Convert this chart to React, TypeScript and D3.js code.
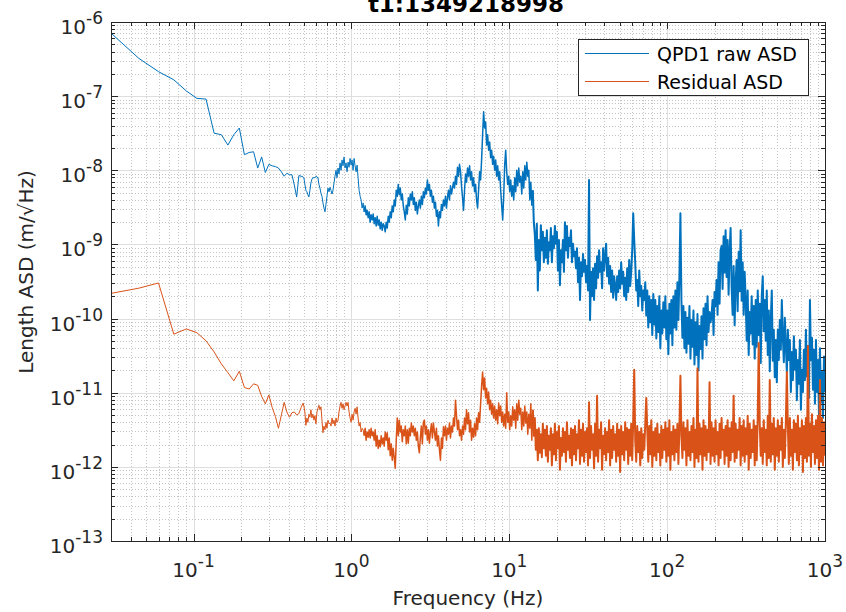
import React from 'react';
import * as d3 from 'd3';

const W = 846;
const H = 612;
const PL = 111, PR = 825, PT = 22, PB = 541;

const titleText = 't1:1349218998';
const xLabel = 'Frequency (Hz)';
const yLabel = 'Length ASD (m/\u221AHz)';
const seriesNames = ['QPD1 raw ASD', 'Residual ASD'];
const seriesColors = ['#0072BD', '#D95319'];
const xTickExps = [-1, 0, 1, 2, 3];
const yTickExps = [-13, -12, -11, -10, -9, -8, -7, -6];
const xDomain = [0.03, 1000];
const yDomain = [1e-13, 1e-6];

// Low-frequency bins (Hz), read one by one
const lowFreq = [0.03, 0.045, 0.06, 0.075, 0.09, 0.105, 0.12, 0.135, 0.15, 0.165, 0.18, 0.195, 0.21, 0.225, 0.24, 0.255,
  0.27, 0.285, 0.3, 0.315, 0.33, 0.345, 0.36, 0.375, 0.39, 0.405, 0.42, 0.435, 0.45, 0.465, 0.48, 0.495];
// log10 of ASD (m/sqrt(Hz))
const qpdLowLog = [-6.15, -6.49, -6.67, -6.78, -6.93, -7.03, -7.04, -7.50, -7.52, -7.66, -7.52, -7.43, -7.79, -7.76, -7.75, -7.97,
  -7.82, -8.03, -7.92, -7.94, -7.95, -7.97, -8.02, -8.08, -8.04, -8.06, -8.06, -8.20, -8.36, -8.07, -8.08, -8.09];
const resLowLog = [-9.66, -9.59, -9.52, -10.21, -10.14, -10.19, -10.30, -10.45, -10.61, -10.73, -10.84, -10.71, -10.93, -10.95, -10.88, -10.90,
  -11.05, -11.15, -11.03, -11.20, -11.32, -11.48, -11.30, -11.13, -11.26, -11.33, -11.27, -11.26, -11.30, -11.28, -11.20, -11.14];

// Dense part: log-spaced readings from 0.5 Hz to 1 kHz
const denseStartHz = 0.5;
const denseEndHz = 1000;
// line weight bands (Hz) to mimic the density of the original FFT bins
const midFromHz = 1.2;
const denseFromHz = 14;
const qpdDenseLog = [
  -8.10,-8.19,-8.27,-8.29,-8.33,-8.36,-8.27,-8.17,-8.12,-8.10,
  -8.10,-8.10,-8.08,-8.09,-8.10,-8.19,-8.24,-8.31,-8.35,-8.44,
  -8.51,-8.56,-8.46,-8.35,-8.24,-8.29,-8.23,-8.27,-8.32,-8.27,
  -8.17,-8.08,-8.00,-8.10,-7.97,-8.05,-7.90,-8.00,-7.86,-7.94,
  -7.82,-7.97,-7.90,-8.02,-7.89,-7.96,-7.84,-7.93,-7.86,-8.00,
  -7.84,-7.94,-8.02,-7.93,-8.10,-8.27,-8.35,-8.40,-8.51,-8.44,
  -8.56,-8.48,-8.60,-8.54,-8.64,-8.56,-8.70,-8.60,-8.67,-8.59,
  -8.72,-8.64,-8.75,-8.62,-8.74,-8.67,-8.79,-8.70,-8.81,-8.72,
  -8.75,-8.83,-8.70,-8.78,-8.62,-8.70,-8.56,-8.64,-8.48,-8.56,
  -8.40,-8.48,-8.27,-8.35,-8.19,-8.33,-8.24,-8.40,-8.32,-8.48,
  -8.56,-8.67,-8.47,-8.59,-8.37,-8.48,-8.32,-8.40,-8.29,-8.46,
  -8.37,-8.54,-8.43,-8.59,-8.48,-8.40,-8.51,-8.35,-8.46,-8.29,
  -8.37,-8.24,-8.32,-8.13,-8.27,-8.19,-8.35,-8.27,-8.43,-8.35,
  -8.51,-8.43,-8.62,-8.54,-8.75,-8.56,-8.64,-8.46,-8.54,-8.40,
  -8.48,-8.35,-8.51,-8.37,-8.27,-8.40,-8.21,-8.32,-8.24,-8.16,
  -8.24,-8.08,-8.19,-7.96,-8.08,-7.92,-8.02,-8.21,-8.37,-8.54,
  -8.27,-8.05,-8.16,-7.97,-8.08,-7.94,-8.13,-8.02,-8.21,-8.10,
  -8.29,-8.19,-8.40,-8.51,-8.27,-8.02,-8.13,-7.86,-7.52,-7.21,
  -7.43,-7.35,-7.66,-7.52,-7.73,-7.62,-7.83,-7.73,-7.92,-7.81,
  -8.00,-7.86,-8.08,-7.94,-8.13,-8.02,-8.27,-8.47,-8.67,-8.35,
  -7.93,-7.73,-8.02,-8.19,-8.08,-8.29,-8.13,-8.35,-8.21,-8.40,
  -8.10,-8.29,-8.00,-8.21,-7.97,-8.16,-8.08,-8.32,-8.02,-8.24,
  -7.94,-8.13,-7.89,-8.08,-8.00,-8.40,-8.16,-8.47,-8.27,-8.70,
  -8.87,-9.21,-8.72,-9.62,-8.94,-9.35,-8.74,-9.08,-8.83,-9.24,
  -8.91,-9.18,-8.81,-9.26,-8.97,-9.08,-8.78,-9.24,-8.89,-9.05,
  -8.75,-8.99,-8.83,-9.35,-8.94,-9.55,-9.08,-9.24,-8.94,-9.37,
  -8.70,-9.08,-8.75,-9.18,-8.91,-9.02,-8.81,-9.24,-8.99,-9.16,
  -9.10,-9.32,-9.05,-9.51,-9.18,-9.75,-9.24,-9.43,-9.13,-9.37,
  -9.21,-9.51,-9.29,-9.62,-8.13,-10.02,-9.37,-9.70,-9.32,-9.75,
  -9.26,-9.59,-9.16,-9.45,-9.08,-9.37,-9.24,-9.59,-9.05,-9.35,
  -9.16,-8.99,-9.43,-9.18,-9.53,-9.29,-9.64,-9.35,-9.72,-9.43,
  -9.56,-9.75,-9.43,-9.64,-9.35,-9.59,-9.24,-9.53,-9.37,-9.70,
  -9.45,-9.75,-9.32,-9.64,-9.21,-9.56,-9.37,-9.08,-8.58,-8.94,
  -9.24,-9.62,-9.48,-9.83,-9.35,-9.70,-9.56,-9.89,-9.62,-9.75,
  -9.51,-9.96,-9.62,-10.12,-9.70,-10.05,-9.75,-10.22,-9.67,-10.08,
  -9.75,-10.27,-9.83,-10.18,-9.70,-10.40,-9.89,-10.20,-9.78,-10.12,
  -9.70,-10.28,-9.89,-10.48,-9.80,-10.20,-9.75,-10.36,-9.70,-10.12,
  -9.62,-10.15,-9.51,-10.02,-9.43,-8.58,-9.75,-10.26,-9.83,-10.40,
  -9.91,-10.46,-9.99,-10.34,-9.83,-10.54,-10.02,-10.38,-9.89,-10.62,
  -10.05,-10.49,-9.94,-10.70,-10.10,-10.41,-9.97,-10.54,-9.86,-10.28,
  -9.80,-10.36,-9.70,-10.18,-9.91,-10.05,-9.97,-9.75,-10.22,-9.64,
  -9.83,-9.48,-9.95,-9.24,-9.80,-9.08,-9.02,-9.60,-8.89,-9.38,
  -8.81,-9.44,-8.94,-9.68,-9.08,-8.78,-9.57,-9.95,-9.29,-10.09,
  -9.51,-9.21,-9.90,-9.10,-9.63,-8.81,-9.76,-9.24,-9.95,-9.37,
  -9.75,-10.30,-9.62,-10.49,-9.91,-10.20,-9.70,-10.35,-9.83,-10.54,
  -9.75,-10.38,-9.62,-10.22,-9.80,-10.60,-9.70,-9.43,-10.17,-9.75,
  -10.30,-9.62,-10.49,-9.89,-10.71,-10.02,-9.62,-10.57,-10.15,-10.79,
  -10.29,-10.86,-10.15,-10.56,-10.02,-10.42,-9.75,-10.24,-10.59,-9.99,
  -10.37,-10.72,-10.15,-10.56,-10.29,-10.99,-10.45,-10.83,-10.24,-10.69,
  -10.42,-11.10,-10.56,-10.88,-10.29,-11.23,-10.69,-10.99,-10.42,-10.83,
  -10.15,-10.78,-10.37,-11.07,-9.75,-10.56,-10.26,-10.96,-10.42,-11.15,
  -10.29,-10.99,-10.56,-11.29,-10.40,-11.13,-10.72,-11.34,-10.51,-10.99,
];
const resDenseLog = [
  -11.18,-11.26,-11.44,-11.34,-11.40,-11.29,-11.33,-11.23,-11.34,-11.29,
  -11.37,-11.31,-11.42,-11.26,-11.21,-11.17,-11.23,-11.19,-11.37,-11.54,
  -11.45,-11.50,-11.40,-11.48,-11.37,-11.42,-11.41,-11.45,-11.34,-11.42,
  -11.37,-11.45,-11.34,-11.40,-11.37,-11.26,-11.18,-11.13,-11.21,-11.15,
  -11.23,-11.18,-11.13,-11.18,-11.13,-11.26,-11.34,-11.40,-11.29,-11.37,
  -11.26,-11.21,-11.29,-11.19,-11.34,-11.45,-11.40,-11.53,-11.48,-11.50,
  -11.58,-11.48,-11.64,-11.53,-11.60,-11.50,-11.61,-11.48,-11.58,-11.53,
  -11.64,-11.50,-11.72,-11.58,-11.75,-11.64,-11.73,-11.58,-11.69,-11.61,
  -11.72,-11.53,-11.64,-11.54,-11.77,-11.61,-11.85,-11.69,-11.91,-11.75,
  -11.88,-12.02,-11.64,-11.34,-11.58,-11.37,-11.53,-11.45,-11.66,-11.50,
  -11.58,-11.45,-11.69,-11.50,-11.68,-11.48,-11.58,-11.41,-11.53,-11.45,
  -11.58,-11.48,-11.64,-11.53,-11.72,-11.81,-11.61,-11.45,-11.69,-11.40,
  -11.37,-11.56,-11.45,-11.64,-11.50,-11.68,-11.53,-11.42,-11.61,-11.41,
  -11.53,-11.64,-11.48,-11.72,-11.58,-11.77,-11.91,-11.61,-11.75,-11.46,
  -11.58,-11.45,-11.64,-11.48,-11.56,-11.41,-11.61,-11.45,-11.53,-11.34,
  -11.45,-11.10,-11.31,-11.50,-11.37,-11.58,-11.50,-11.64,-11.45,-11.56,
  -11.34,-11.50,-11.23,-11.42,-11.27,-11.53,-11.37,-11.64,-11.48,-11.60,
  -11.42,-11.58,-11.34,-11.50,-11.27,-11.40,-11.15,-10.91,-10.72,-10.96,
  -10.80,-11.07,-10.94,-11.15,-10.99,-11.23,-11.10,-11.29,-11.15,-11.34,
  -11.18,-11.37,-11.23,-11.42,-11.14,-11.31,-11.18,-11.40,-11.26,-11.45,
  -11.29,-11.48,-11.00,-11.40,-11.26,-11.50,-11.31,-11.45,-11.19,-11.37,
  -11.23,-11.48,-11.15,-11.37,-11.10,-11.29,-11.21,-11.50,-11.26,-11.45,
  -11.18,-11.41,-11.26,-11.56,-11.29,-11.48,-11.15,-11.64,-11.23,-11.58,
  -11.34,-11.77,-11.50,-11.91,-11.48,-11.81,-11.56,-11.87,-11.42,-11.75,
  -11.50,-11.85,-11.45,-11.93,-11.58,-11.77,-11.48,-11.98,-11.56,-11.83,
  -11.42,-11.91,-11.53,-11.75,-11.45,-12.04,-11.61,-11.85,-11.48,-11.80,
  -11.53,-11.93,-11.40,-11.77,-11.58,-11.88,-11.48,-11.98,-11.50,-11.83,
  -11.45,-11.91,-11.56,-11.75,-11.37,-11.96,-11.50,-11.85,-11.42,-11.93,
  -11.53,-11.80,-11.48,-11.98,-11.13,-11.88,-11.45,-11.77,-11.56,-12.02,
  -11.42,-11.85,-11.04,-11.93,-11.50,-11.75,-11.40,-12.04,-11.58,-11.83,
  -11.48,-11.91,-11.53,-11.80,-11.37,-11.98,-11.50,-11.88,-11.45,-11.77,
  -11.56,-11.93,-11.42,-11.85,-11.50,-12.07,-11.45,-11.83,-11.53,-11.91,
  -11.40,-11.77,-11.48,-11.96,-11.50,-11.85,-11.42,-11.91,-11.37,-10.69,
  -11.64,-11.93,-11.45,-11.80,-11.53,-11.98,-11.48,-11.88,-11.56,-11.77,
  -11.42,-11.07,-11.50,-11.93,-11.45,-11.83,-11.37,-12.00,-11.53,-11.85,
  -11.48,-11.91,-11.42,-11.80,-11.56,-11.98,-11.45,-11.88,-11.50,-11.77,
  -11.40,-11.93,-11.48,-11.85,-11.37,-12.04,-11.53,-11.83,-11.45,-11.91,
  -11.50,-11.80,-11.42,-11.96,-11.48,-10.77,-11.58,-11.88,-11.40,-11.77,
  -11.48,-11.98,-11.37,-11.85,-11.53,-11.91,-11.45,-11.80,-11.34,-12.00,
  -11.50,-11.88,-10.67,-11.93,-11.42,-11.83,-11.48,-12.04,-11.37,-11.85,
  -11.45,-11.91,-11.50,-11.80,-10.86,-11.96,-11.40,-11.85,-11.48,-11.93,
  -11.37,-11.83,-11.53,-11.98,-11.42,-11.88,-11.34,-11.77,-11.50,-11.96,
  -11.45,-11.85,-11.37,-12.00,-11.48,-11.91,-11.40,-11.80,-11.04,-11.93,
  -11.42,-11.88,-11.50,-11.77,-11.34,-11.98,-11.45,-11.85,-11.37,-11.93,
  -11.48,-11.83,-11.31,-12.04,-11.42,-11.88,-11.50,-11.80,-11.37,-11.98,
  -11.45,-11.91,-11.34,-10.33,-11.42,-11.85,-11.48,-11.96,-11.37,-11.80,
  -11.50,-11.98,-11.31,-11.88,-10.83,-11.93,-11.42,-11.83,-11.34,-12.04,
  -11.48,-11.85,-11.37,-11.93,-11.45,-11.77,-11.34,-12.00,-11.50,-11.88,
  -11.40,-10.72,-11.45,-11.96,-11.34,-11.85,-11.50,-12.04,-11.37,-11.80,
  -11.42,-11.91,-11.31,-11.98,-11.48,-11.83,-11.37,-12.07,-11.45,-11.88,
  -11.34,-11.93,-10.37,-11.85,-11.42,-12.00,-11.29,-11.80,-11.45,-11.96,
  -11.37,-11.88,-11.31,-12.04,-10.83,-11.93,-11.34,-11.98,-11.40,-11.85,
];

type Pt = { f: number; v: number };

function buildSeries(lowLog: number[], denseLog: number[]): Pt[] {
  const pts: Pt[] = lowFreq.map((f, i) => ({ f, v: Math.pow(10, lowLog[i]) }));
  const n = denseLog.length;
  const l0 = Math.log10(denseStartHz);
  const l1 = Math.log10(denseEndHz);
  denseLog.forEach((lv, i) => {
    const f = Math.pow(10, l0 + (i * (l1 - l0)) / (n - 1));
    pts.push({ f, v: Math.pow(10, lv) });
  });
  return pts;
}

const FONT = 'DejaVu Sans, Liberation Sans, sans-serif';
const AX = '#262626';

function Pow10({ x, y, exp, anchor }: { x: number; y: number; exp: number; anchor: 'middle' | 'end' }) {
  return (
    <text x={x} y={y} textAnchor={anchor} fontFamily={FONT} fontSize={20} fill={AX}>
      10
      <tspan dy={-10} fontSize={17}>{String(exp)}</tspan>
    </text>
  );
}

export default function App() {
  const x = d3.scaleLog().domain(xDomain).range([PL, PR]);
  const y = d3.scaleLog().domain(yDomain).range([PB, PT]);

  const line = d3
    .line<Pt>()
    .x((d) => x(d.f))
    .y((d) => y(d.v));

  const series = [buildSeries(qpdLowLog, qpdDenseLog), buildSeries(resLowLog, resDenseLog)];

  const xMinor: number[] = [];
  for (let e = -2; e <= 2; e++) {
    for (let m = 2; m <= 9; m++) {
      const v = m * Math.pow(10, e);
      if (v > xDomain[0] * 1.0001 && v < xDomain[1]) xMinor.push(v);
    }
  }
  const yMinor: number[] = [];
  for (let e = -13; e <= -7; e++) {
    for (let m = 2; m <= 9; m++) yMinor.push(m * Math.pow(10, e));
  }
  const xMajor = xTickExps.map((e) => Math.pow(10, e));
  const yMajor = yTickExps.map((e) => Math.pow(10, e));
  const r = (v: number) => Math.round(v) + 0.5;

  const legX = 578, legY = 39, legW = 230, legH = 56;

  return (
    <svg width={W} height={H} style={{ position: 'absolute', left: 0, top: 0, background: '#fff' }}>
      <defs>
        <clipPath id="plotclip">
          <rect x={PL} y={PT} width={PR - PL} height={PB - PT} />
        </clipPath>
      </defs>
      <rect x={0} y={0} width={W} height={H} fill="#fff" />
      {/* minor grid */}
      <g stroke="#c4c4c4" strokeWidth={1} strokeDasharray="1 2">
        {xMinor.map((v, i) => (
          <line key={'xm' + i} x1={r(x(v))} x2={r(x(v))} y1={PT} y2={PB} />
        ))}
        {yMinor.map((v, i) => (
          <line key={'ym' + i} x1={PL} x2={PR} y1={r(y(v))} y2={r(y(v))} />
        ))}
      </g>
      {/* major grid */}
      <g stroke="#dedede" strokeWidth={1}>
        {xMajor.map((v, i) => (
          <line key={'xg' + i} x1={r(x(v))} x2={r(x(v))} y1={PT} y2={PB} />
        ))}
        {yMajor.map((v, i) => (
          <line key={'yg' + i} x1={PL} x2={PR} y1={r(y(v))} y2={r(y(v))} />
        ))}
      </g>
      {/* data */}
      <g clipPath="url(#plotclip)" fill="none" strokeLinejoin="round">
        {series.map((s, i) => {
          const k1 = s.findIndex((p) => p.f >= midFromHz);
          const k2 = s.findIndex((p) => p.f >= denseFromHz);
          const parts = [
            { pts: s.slice(0, k1 + 1), w: 1 },
            { pts: s.slice(k1, k2 + 1), w: 1.5 },
            { pts: s.slice(k2), w: 2 },
          ];
          return (
            <g key={'s' + i} stroke={seriesColors[i]}>
              {parts.map((p, j) => (
                <path key={j} d={line(p.pts) || ''} strokeWidth={p.w} />
              ))}
            </g>
          );
        })}
      </g>
      {/* ticks */}
      <g stroke={AX} strokeWidth={1}>
        {xMajor.map((v, i) => (
          <g key={'xt' + i}>
            <line x1={r(x(v))} x2={r(x(v))} y1={PB} y2={PB - 7} />
            <line x1={r(x(v))} x2={r(x(v))} y1={PT} y2={PT + 7} />
          </g>
        ))}
        {xMinor.map((v, i) => (
          <g key={'xmt' + i}>
            <line x1={r(x(v))} x2={r(x(v))} y1={PB} y2={PB - 4} />
            <line x1={r(x(v))} x2={r(x(v))} y1={PT} y2={PT + 4} />
          </g>
        ))}
        {yMajor.map((v, i) => (
          <g key={'yt' + i}>
            <line x1={PL} x2={PL + 7} y1={r(y(v))} y2={r(y(v))} />
            <line x1={PR} x2={PR - 7} y1={r(y(v))} y2={r(y(v))} />
          </g>
        ))}
        {yMinor.map((v, i) => (
          <g key={'ymt' + i}>
            <line x1={PL} x2={PL + 4} y1={r(y(v))} y2={r(y(v))} />
            <line x1={PR} x2={PR - 4} y1={r(y(v))} y2={r(y(v))} />
          </g>
        ))}
      </g>
      {/* box */}
      <rect x={PL + 0.5} y={PT + 0.5} width={PR - PL} height={PB - PT} fill="none" stroke={AX} strokeWidth={1} />
      {/* tick labels */}
      {xTickExps.map((e, i) => (
        <Pow10 key={'xl' + i} x={x(Math.pow(10, e))} y={PB + 36} exp={e} anchor="middle" />
      ))}
      {yTickExps.map((e, i) => (
        <Pow10 key={'yl' + i} x={103} y={y(Math.pow(10, e)) + 12} exp={e} anchor="end" />
      ))}
      {/* axis labels */}
      <text x={(PL + PR) / 2} y={605} textAnchor="middle" fontFamily={FONT} fontSize={20} fill={AX}>
        {xLabel}
      </text>
      <text
        transform={`translate(33, 272) rotate(-90)`}
        textAnchor="middle"
        fontFamily={FONT}
        fontSize={20}
        fill={AX}
      >
        {yLabel}
      </text>
      {/* title */}
      <text x={466} y={12} textAnchor="middle" fontFamily={FONT} fontSize={23} fontWeight="bold" fill="#000">
        {titleText}
      </text>
      {/* legend */}
      <rect x={legX + 0.5} y={legY + 0.5} width={legW} height={legH} fill="#fff" stroke={AX} strokeWidth={1} />
      {seriesNames.map((name, i) => {
        const ly = legY + 14 + i * 28;
        return (
          <g key={'lg' + i}>
            <line x1={585} x2={649} y1={ly + 0.5} y2={ly + 0.5} stroke={seriesColors[i]} strokeWidth={1} />
            <text x={657} y={ly + 7.5} fontFamily={FONT} fontSize={19} fill="#000">
              {name}
            </text>
          </g>
        );
      })}
    </svg>
  );
}
